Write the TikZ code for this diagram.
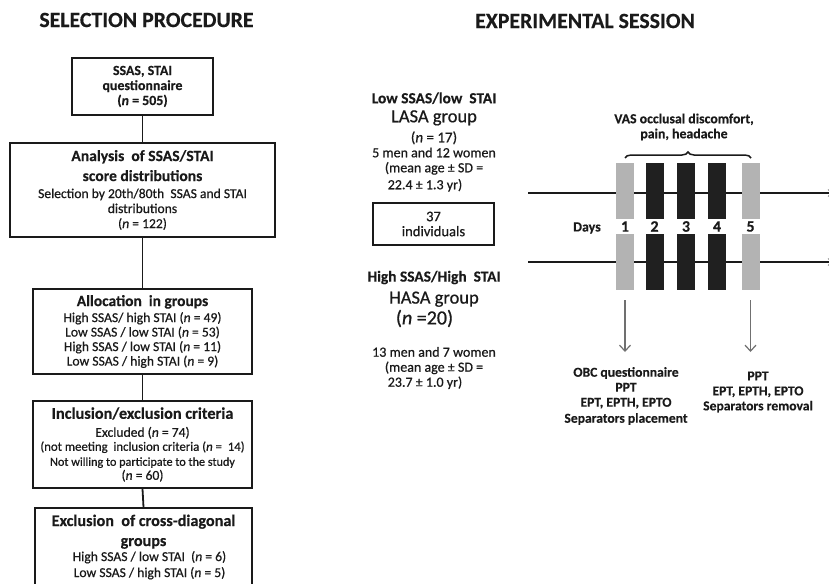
\documentclass[tikz,border=0pt]{standalone}
\usepackage{fontspec}
\setmainfont{Carlito}[UprightFeatures={FakeBold=0.6},ItalicFeatures={FakeBold=0.6},BoldFeatures={FakeBold=0.3},BoldItalicFeatures={FakeBold=0.3}]
\usetikzlibrary{arrows.meta,decorations.pathreplacing,calc}
\newcommand\myfs[1]{\fontsize{#1}{15}\selectfont}
\definecolor{ink}{HTML}{1A1A1A}
\definecolor{barlight}{HTML}{B3B3B3}
\definecolor{bardark}{HTML}{202020}
\definecolor{arrgray}{HTML}{707070}
\begin{document}
\begin{tikzpicture}[x=1pt,y=-1pt,
  every node/.style={text=ink, inner sep=0pt},
  bx/.style={draw=ink, line width=1.8pt, align=center, inner sep=0pt, font=\myfs{13.6}},
  txt/.style={align=center, font=\myfs{14}},
  title/.style={font=\fontsize{21.8}{24}\selectfont\bfseries},
  lbar/.style={fill=barlight, minimum width=18pt, minimum height=56pt},
  dbar/.style={fill=bardark, minimum width=18pt, minimum height=56pt},
  tline/.style={draw=ink, line width=1.7pt},
  conn/.style={draw=ink, line width=1.8pt},
  garr/.style={draw=arrgray, line width=1.2pt, -{Straight Barb[length=6pt,width=11pt]}}]
\useasboundingbox (0,0) rectangle (829,583);
\fill[white] (0,0) rectangle (829,583);

% titles
\node[title] (t-sel) at (146.5,20) {SELECTION PROCEDURE};
\node[title] (t-exp) at (585,21) {EXPERIMENTAL SESSION};

% left flow boxes
\node[bx, minimum width=141pt, minimum height=57pt, font=\myfs{13.9}] (b1) at (142.5,86.5)
  {\bfseries SSAS, STAI\\ \bfseries questionnaire\\ \bfseries (\textit{n} = 505)};
\node[bx, minimum width=265pt, minimum height=94pt] (b2) at (142.5,190)
  {{\myfs{15.6}\bfseries Analysis\ \ of SSAS/STAI}\\[5pt]{\myfs{15.6}\bfseries score distributions}\\[2pt]
   Selection by 20th/80th\ \ SSAS and STAI\\ distributions\\ (\textit{n} = 122)};
\node[bx, minimum width=219pt, minimum height=85pt] (b3) at (142.5,331.5)
  {{\myfs{15.5}\bfseries Allocation\ \ in groups}\\[1pt]
   High SSAS/ high STAI (\textit{n} = 49)\\[-0.5pt]
   Low SSAS / low STAI (\textit{n} = 53)\\[-0.5pt]
   High SSAS / low STAI (\textit{n} = 11)\\[-0.5pt]
   Low SSAS / high STAI (\textit{n} = 9)};
\node[bx, minimum width=219pt, minimum height=87pt] (b4) at (142.5,444.5)
  {{\myfs{16.3}\bfseries Inclusion/exclusion criteria}\\[3pt]
   Excluded (\textit{n} = 74)\\[-1pt]
   {\myfs{12.8}(not meeting\ \ inclusion criteria (\textit{n} =\ \ 14)}\\
   {\myfs{12.2}Not willing to participate to the study}\\[-1pt]
   (\textit{n} = 60)};
\node[bx, minimum width=217pt, minimum height=78pt] (b5) at (143.5,547)
  {{\myfs{16.2}\bfseries Exclusion\ \ of cross-diagonal}\\[5pt]
   {\myfs{16.2}\bfseries groups}\\[0pt]
   \hspace*{12pt}High SSAS / low STAI\ \ (\textit{n} = 6)\\[1pt]
   \hspace*{12pt}Low SSAS / high STAI (\textit{n} = 5)};

\draw[conn] (b1.south) -- (b2.north);
\draw[conn] (b2.south) -- (b3.north);
\draw[conn] (b3.south) -- (b4.north);
\draw[conn] (b4.south) -- (b5.north);

% groups
\node[txt] (lasa) at (434,142)
  {{\myfs{15.4}\bfseries Low SSAS/low\ \ STAI}\\[4pt]
   {\myfs{18.5}LASA group}\\[5pt]
   {\myfs{15}(\textit{n} = 17)}\\
   5 men and 12 women\\
   (mean age ± SD =\hspace*{22pt}\\[2pt]
   22.4 ± 1.3 yr)\hspace*{18pt}};
\node[bx, line width=1.6pt, minimum width=121pt, minimum height=42pt, font=\myfs{14.6}] (ind) at (433.5,224)
  {37\\ individuals};
\node[txt] (hasa) at (434,299)
  {{\myfs{15.4}\bfseries High SSAS/High\ \ STAI}\\[7pt]
   {\myfs{18.5}HASA group}\\[2pt]
   {\myfs{20}(\textit{n} =20)}\hspace*{19pt}};
\node[txt] (hasa2) at (434,368)
  {13 men and 7 women\\
   (mean age ± SD =\hspace*{22pt}\\
   23.7 ± 1.0 yr)\hspace*{18pt}};

% timeline
\coordinate (l1a) at (528,193);
\coordinate (l1b) at (836,193);
\coordinate (l2a) at (528,262);
\coordinate (l2b) at (836,262);
\draw[tline, -{Stealth[length=8pt,width=7pt]}] (l1a) -- (l1b);
\draw[tline, -{Stealth[length=8pt,width=7pt]}] (l2a) -- (l2b);

\node[lbar] (u1) at (625,191) {};
\node[dbar] (u2) at (654.5,191) {};
\node[dbar] (u3) at (686,191) {};
\node[dbar] (u4) at (717,191) {};
\node[lbar] (u5) at (750.5,191) {};
\node[lbar] (d1) at (625,262) {};
\node[dbar] (d2) at (654.5,262) {};
\node[dbar] (d3) at (686,262) {};
\node[dbar] (d4) at (717,262) {};
\node[lbar] (d5) at (750.5,262) {};

\node[font=\myfs{14}\bfseries] (days) at (587,228) {Days};
\foreach \i in {1,...,5}{
  \node[font=\myfs{16}\bfseries] (n\i) at ($(u\i.south)!0.5!(d\i.north)$) {\i};
}

% brace and VAS
\coordinate (br1) at (625,158);
\coordinate (br2) at (751,158);
\draw[ink, line width=1.5pt, decorate, decoration={brace, amplitude=6pt}] (br1) -- (br2);
\node[txt, font=\myfs{13.8}\bfseries] (vas) at (684,127)
  {VAS occlusal discomfort,\\ pain, headache};

% arrows and measures
\node[txt, font=\myfs{13.6}\bfseries] (m1) at (626,396)
  {OBC questionnaire\\ PPT\\ EPT, EPTH, EPTO\\[1pt] Separators placement};
\node[txt, font=\myfs{13.6}\bfseries] (m2) at (758,392)
  {PPT\\ EPT, EPTH, EPTO\\ Separators removal};
\coordinate (ae) at (0,352);
\draw[garr] ([yshift=-10pt]d1.south) -- (d1.south |- ae);
\draw[garr] ([yshift=-10pt]d5.south) -- (d5.south |- ae);
\end{tikzpicture}
\end{document}
